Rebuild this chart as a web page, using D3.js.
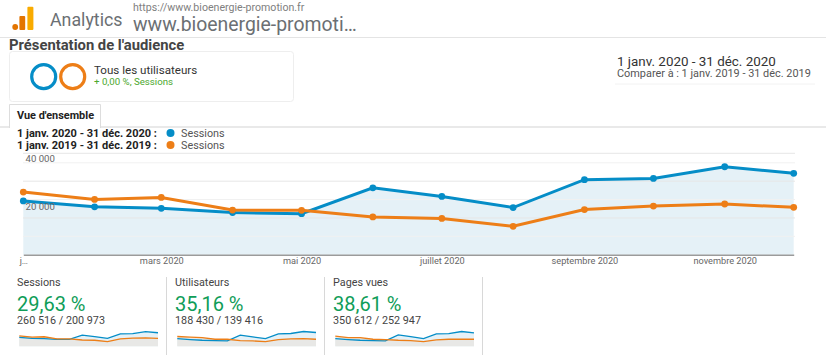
<!DOCTYPE html>
<html>
<head>
<meta charset="utf-8">
<script src="https://cdn.jsdelivr.net/npm/d3@7"></script>
<style>
  html, body { margin: 0; padding: 0; background: #fff; }
  svg { display: block; }
  text { font-family: Roboto, sans-serif; }
</style>
</head>
<body>
<svg id="drawing_region"></svg>
<script>
const months = ['2020-01-01', '2020-02-01', '2020-03-01', '2020-04-01', '2020-05-01', '2020-06-01',
                '2020-07-01', '2020-08-01', '2020-09-01', '2020-10-01', '2020-11-01', '2020-12-01'];
const monthTicks = ['2020-01-01', '2020-03-01', '2020-05-01', '2020-07-01', '2020-09-01', '2020-11-01'];
const monthTickLabels = ['j…', 'mars 2020', 'mai 2020', 'juillet 2020', 'septembre 2020', 'novembre 2020'];

const sessions2020 = [21200, 18900, 18300, 16600, 16200, 26400, 23000, 18600, 29600, 30100, 34700, 32100];
const sessions2019 = [24700, 21800, 22600, 17600, 17500, 14900, 14300, 11200, 17800, 19200, 20000, 18700];
const users2020 = [12800, 11200, 10000, 9500, 8900, 18400, 15600, 12800, 20600, 21200, 24500, 22900];
const users2019 = [16200, 15100, 14500, 11700, 11700, 9500, 8900, 7800, 11100, 12300, 12800, 11700];
const pages2020 = [23800, 20700, 18600, 17600, 16500, 35200, 30000, 23800, 38300, 39300, 45500, 41400];
const pages2019 = [31000, 26900, 26900, 21700, 20700, 18600, 17600, 14500, 19600, 21700, 21700, 21700];

const yTicks = [40000, 20000];
const gridMajor = [40000, 29000, 14500];
const gridMinor = [36250, 21750, 7250];

const metricNames = ['Sessions', 'Utilisateurs', 'Pages vues'];
const metricChanges = ['29,63 %', '35,16 %', '38,61 %'];
const metricTotals = ['260 516 / 200 973', '188 430 / 139 416', '350 612 / 252 947'];
const metricSeries = [[sessions2020, sessions2019], [users2020, users2019], [pages2020, pages2019]];
const metricMax = [40000, 28000, 52000];

const BLUE = '#058dc7';
const ORANGE = '#ed7e17';
const parseDay = d3.utcParse('%Y-%m-%d');
const dates = months.map(parseDay);

const svg = d3.select('#drawing_region').attr('width', 826).attr('height', 360);

function label(x, y, str, size, color, weight) {
    return svg.append('text')
        .attr('x', x)
        .attr('y', y)
        .style('font-size', size + 'px')
        .style('font-weight', weight || 400)
        .attr('fill', color)
        .text(str);
}

// header
svg.append('circle').attr('cx', 15.2).attr('cy', 27).attr('r', 2.9).attr('fill', '#e37400');
svg.append('rect').attr('x', 19.4).attr('y', 16).attr('width', 5.8).attr('height', 14).attr('rx', 1).attr('fill', '#e37400');
svg.append('rect').attr('x', 27.4).attr('y', 6.8).attr('width', 6).attr('height', 23.2).attr('rx', 1).attr('fill', '#f9ab00');
label(50, 25.5, 'Analytics', 17.8, '#6b6f73');
label(133, 11, 'https://www.bioenergie-promotion.fr', 10.6, '#808080');
label(133, 31, 'www.bioenergie-promoti…', 19.4, '#6b6f73');
svg.append('line').attr('x1', 0).attr('x2', 826).attr('y1', 37.5).attr('y2', 37.5).attr('stroke', '#e4e4e4');
label(9, 50, "Présentation de l'audience", 14.8, '#444444', 700);

// segment card
svg.append('rect').attr('x', 9.5).attr('y', 51.5).attr('width', 284).attr('height', 50).attr('rx', 3)
    .attr('fill', '#fff').attr('stroke', '#eeeeee');
svg.append('circle').attr('cx', 43.7).attr('cy', 76.7).attr('r', 12).attr('fill', 'none').attr('stroke', BLUE).attr('stroke-width', 3.2);
svg.append('circle').attr('cx', 72.7).attr('cy', 76.7).attr('r', 12).attr('fill', 'none').attr('stroke', ORANGE).attr('stroke-width', 3.2);
label(94, 74, 'Tous les utilisateurs', 11.6, '#333');
label(94, 85, '+ 0,00 %, Sessions', 9.7, '#4ba82e');

// date range
label(617, 66, '1 janv. 2020 - 31 déc. 2020', 13.4, '#333');
label(617, 77, 'Comparer à : 1 janv. 2019 - 31 déc. 2019', 10.9, '#555');
svg.append('line').attr('x1', 615).attr('x2', 815).attr('y1', 84).attr('y2', 84).attr('stroke', '#f2f2f2');

// tab
svg.append('line').attr('x1', 0).attr('x2', 826).attr('y1', 127).attr('y2', 127).attr('stroke', '#e2e2e2').attr('stroke-width', 1.5);
svg.append('path').attr('d', 'M9.5,128V104.5H100.5V128').attr('fill', '#fff').attr('stroke', '#dddddd');
label(17, 119, "Vue d'ensemble", 10.9, '#222', 700);

// legend
[['1 janv. 2020 - 31 déc. 2020 :', BLUE, 137], ['1 janv. 2019 - 31 déc. 2019 :', ORANGE, 149]].forEach(r => {
    label(17, r[2], r[0], 11, '#222', 700);
    svg.append('circle').attr('cx', 170.5).attr('cy', r[2] - 4).attr('r', 4).attr('fill', r[1]);
    label(181, r[2], 'Sessions', 10.8, '#555');
});

// main chart
const xscale = d3.scaleUtc().domain(d3.extent(dates)).range([23.3, 793.7]);
const yscale = d3.scaleLinear().domain([0, 40000]).range([254.7, 153.3]);
const chart = svg.append('g');

const area = d3.area()
    .x((d, i) => xscale(dates[i]))
    .y0(yscale(0))
    .y1(d => yscale(d));
const line = d3.line()
    .x((d, i) => xscale(dates[i]))
    .y(d => yscale(d));

chart.append('path').datum(sessions2020).attr('d', area).attr('fill', '#e5f1f7');

chart.selectAll('.minor').data(gridMinor).join('line')
    .attr('class', 'minor')
    .attr('x1', 23).attr('x2', 795)
    .attr('y1', d => yscale(d)).attr('y2', d => yscale(d))
    .attr('stroke', '#f1f1f1');
chart.selectAll('.major').data(gridMajor).join('line')
    .attr('class', 'major')
    .attr('x1', 23).attr('x2', 795)
    .attr('y1', d => yscale(d)).attr('y2', d => yscale(d))
    .attr('stroke', '#e6e6e6');

[[sessions2020, BLUE], [sessions2019, ORANGE]].forEach(s => {
    chart.append('path').datum(s[0]).attr('d', line)
        .attr('fill', 'none').attr('stroke', s[1]).attr('stroke-width', 3);
    chart.append('g').selectAll('circle').data(s[0]).join('circle')
        .attr('cx', (d, i) => xscale(dates[i]))
        .attr('cy', d => yscale(d))
        .attr('r', 3.4)
        .attr('fill', s[1]);
});

const yaxis = d3.axisRight(yscale)
    .tickValues(yTicks)
    .tickSize(0)
    .tickPadding(0)
    .tickFormat(d => d3.format(',')(d).replace(',', ' '));
const yaxis_group = chart.append('g').attr('transform', 'translate(25.5, 0)').call(yaxis);
yaxis_group.select('.domain').remove();
yaxis_group.selectAll('text')
    .attr('dy', d => d === 40000 ? 8 : 5)
    .style('font-size', '9.6px')
    .style('font-family', 'Roboto, sans-serif')
    .attr('fill', '#666');

const xaxis = d3.axisBottom(xscale)
    .tickValues(monthTicks.map(parseDay))
    .tickSize(0)
    .tickPadding(3)
    .tickFormat((d, i) => monthTickLabels[i]);
const xaxis_group = chart.append('g').attr('transform', `translate(0, ${yscale(0)})`).call(xaxis);
xaxis_group.select('.domain').attr('stroke', '#9b9b9b').attr('stroke-width', 1.4);
xaxis_group.selectAll('text')
    .style('font-size', '9.2px')
    .style('font-family', 'Roboto, sans-serif')
    .attr('fill', '#666');

// metric tiles
metricNames.forEach((name, i) => {
    const left = 17 + i * 158;
    label(left, 286, name, 10.8, '#444');
    label(left, 311, metricChanges[i], 20, '#0f9d58');
    label(left, 324, metricTotals[i], 10.8, '#444');

    const sx = d3.scaleUtc().domain(d3.extent(dates)).range([left + 2.3, left + 141]);
    const sy = d3.scaleLinear().domain([0, metricMax[i]]).range([346.3, 329.4]);
    const sarea = d3.area().x((d, j) => sx(dates[j])).y0(sy(0)).y1(d => sy(d));
    const sline = d3.line().x((d, j) => sx(dates[j])).y(d => sy(d));

    svg.append('path').datum(metricSeries[i][0]).attr('d', sarea).attr('fill', '#e5f1f7');
    svg.append('path').datum(metricSeries[i][1]).attr('d', sarea).attr('fill', '#e8e8e6');
    svg.append('path').datum(metricSeries[i][0]).attr('d', sline).attr('fill', 'none').attr('stroke', BLUE).attr('stroke-width', 1.3);
    svg.append('path').datum(metricSeries[i][1]).attr('d', sline).attr('fill', 'none').attr('stroke', ORANGE).attr('stroke-width', 1.3);

    svg.append('line')
        .attr('x1', left + 149.5).attr('x2', left + 149.5)
        .attr('y1', 277).attr('y2', 355)
        .attr('stroke', '#d8d8d8');
});
</script>
</body>
</html>
